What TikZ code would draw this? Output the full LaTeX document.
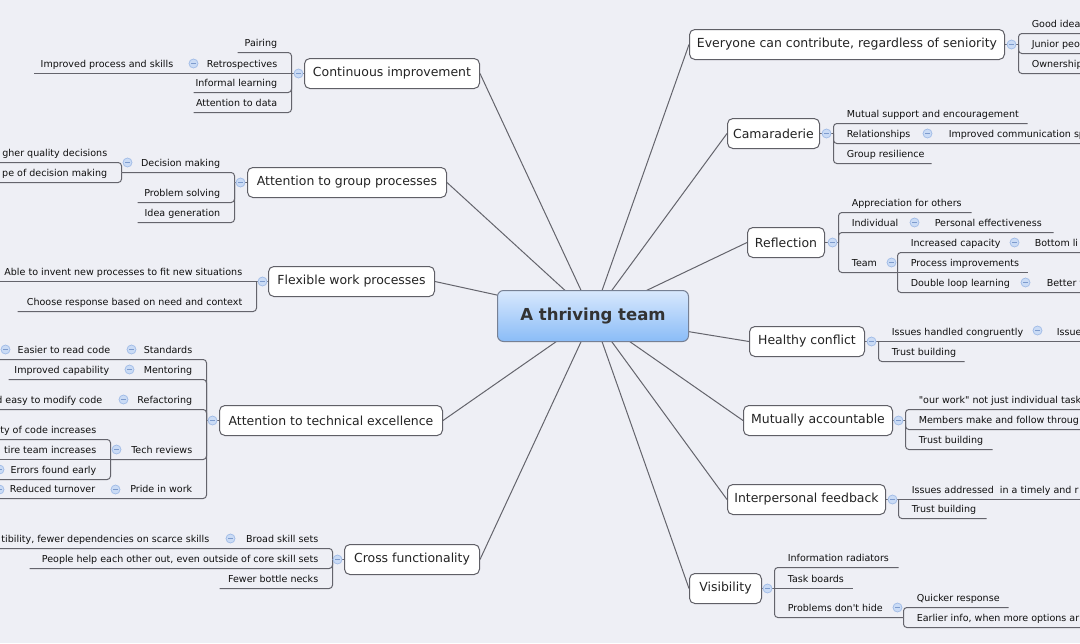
\documentclass[tikz,border=0pt]{standalone}
\usepackage{fontspec}
\setmainfont{DejaVu Sans}[Ligatures=TeXOff]
\pgfdeclarelayer{bg}
\pgfsetlayers{bg,main}
\definecolor{bgc}{RGB}{238,239,245}
\definecolor{linec}{RGB}{100,100,108}
\definecolor{boxline}{RGB}{95,95,102}
\definecolor{txt}{RGB}{15,15,15}
\definecolor{mtxt}{RGB}{35,35,35}
\definecolor{togfill}{RGB}{202,219,245}
\definecolor{togdraw}{RGB}{158,186,230}
\definecolor{togminus}{RGB}{125,155,205}
\definecolor{ctop}{RGB}{216,232,253}
\definecolor{cbot}{RGB}{138,188,247}
\definecolor{cline}{RGB}{118,128,148}
\tikzset{
  conn/.style={draw=linec, line width=0.75pt, rounded corners=2.5pt},
  mainconn/.style={draw=linec, line width=0.75pt},
  leaf/.style={font=\fontsize{7.16}{8}\selectfont, text=txt, inner sep=0pt},
  mainbox/.style={draw=boxline, fill=white, rounded corners=4pt, line width=0.75pt,
    font=\fontsize{9.35}{11}\selectfont, text=mtxt, inner sep=0pt},
  central/.style={draw=cline, top color=ctop, bottom color=cbot, rounded corners=4.5pt,
    line width=0.75pt, font=\bfseries\fontsize{12.4}{14}\selectfont, text=black!80,
    inner sep=0pt, minimum width=143.25pt, minimum height=38.25pt},
  togg/.style={circle, fill=togfill, draw=togdraw, line width=0.5pt, minimum size=6.8pt,
    inner sep=0pt, path picture={\draw[togminus, line width=0.6pt]
      ([xshift=-1.6pt]path picture bounding box.center) --
      ([xshift=1.6pt]path picture bounding box.center);}},
}
\newcommand{\Mainb}[6]{\node[mainbox, minimum width={(#3-#2)*0.75pt},
  minimum height={(#5-#4)*0.75pt}] (#1) at ({(#2+#3)/2},{(#4+#5)/2}) {#6};}
\newcommand{\Tog}[3]{\node[togg] (#1) at (#2,#3) {};}
\newcommand{\Cpath}[4]{\ifnum#2=#3\relax\draw[conn] (#1,#3) -- (#4,#3);\else
  \draw[conn] (#1,#2) -- (#1,#3) -- (#4,#3);\fi}
\newcommand{\Rch}[6]{\Cpath{#2}{#3}{#4}{#5}\node[leaf,anchor=base west] (#1) at ({#2+13},{#4-6}) {#6};}
\newcommand{\Lch}[6]{\Cpath{#2}{#3}{#4}{#5}\node[leaf,anchor=base east] (#1) at ({#2-14},{#4-6}) {#6};}
\newcommand{\Rtx}[4]{\node[leaf,anchor=base west] (#1) at (#2,{#3-6}) {#4};}
\newcommand{\Ltx}[4]{\node[leaf,anchor=base east] (#1) at (#2,{#3-6}) {#4};}
\begin{document}
\begin{tikzpicture}[x=0.75pt,y=-0.75pt]
\useasboundingbox (0,0) rectangle (1080,643);
\begin{pgfonlayer}{bg}\fill[bgc] (0,0) rectangle (1080,643);\end{pgfonlayer}
\begin{scope}
\clip (0,0) rectangle (1080,643);
\begin{scope}[shift={(0.5,0.5)}]
% central and main branches
\node[central] (ctr) at (592.5,315.5) {A thriving team};
\Mainb{ci}{304}{479}{58}{88}{Continuous improvement}
\Mainb{agp}{247}{446}{167}{197}{Attention to group processes}
\Mainb{fwp}{268}{434}{266}{296}{Flexible work processes}
\Mainb{ate}{219}{442}{405}{435}{Attention to technical excellence}
\Mainb{cf}{344}{479}{544}{574}{Cross functionality}
\Mainb{ec}{689}{1004}{29}{59}{Everyone can contribute, regardless of seniority}
\Mainb{cam}{727}{819}{118}{148}{Camaraderie}
\Mainb{ref}{747}{824}{227}{257}{Reflection}
\Mainb{hc}{749}{864}{326}{356}{Healthy conflict}
\Mainb{ma}{743}{892}{405}{435}{Mutually accountable}
\Mainb{ifb}{727}{885}{484}{514}{Interpersonal feedback}
\Mainb{vis}{689}{761}{573}{603}{Visibility}
\begin{pgfonlayer}{bg}
\foreach \n in {ci,agp,fwp,ate,cf} {\draw[mainconn] (ctr.center) -- (\n.east);}
\foreach \n in {ec,cam,ref,hc,ma,ifb,vis} {\draw[mainconn] (ctr.center) -- (\n.west);}
\end{pgfonlayer}
% box to bracket
\draw[conn] (ci.west) -- (291,73);
\draw[conn] (agp.west) -- (234,182);
\draw[conn] (fwp.west) -- (256,281);
\draw[conn] (ate.west) -- (206,420);
\draw[conn] (cf.west) -- (332,559);
\draw[conn] (ec.east) -- (1018,44);
\draw[conn] (cam.east) -- (833,133);
\draw[conn] (ref.east) -- (838,242);
\draw[conn] (hc.east) -- (878,341);
\draw[conn] (ma.east) -- (905,420);
\draw[conn] (ifb.east) -- (898,499);
\draw[conn] (vis.east) -- (774,588);
% Continuous improvement
\Lch{ci1}{291}{73}{52}{237}{Pairing}
\Lch{ci2}{291}{73}{73}{33}{Retrospectives}
\Lch{ci3}{291}{73}{92}{193}{Informal learning}
\Lch{ci4}{291}{73}{112}{193}{Attention to data}
\Ltx{ci2a}{173}{73}{Improved process and skills}
% Attention to group processes
\Lch{agp1}{234}{182}{172}{121}{Decision making}
\Lch{agp2}{234}{182}{202}{137}{Problem solving}
\Lch{agp3}{234}{182}{222}{137}{Idea generation}
\Lch{agp1a}{121}{172}{162}{-5}{gher quality decisions}
\Lch{agp1b}{121}{172}{182}{-5}{pe of decision making}
% Flexible work processes
\Lch{fwp1}{256}{281}{281}{-5}{Able to invent new processes to fit new situations}
\Lch{fwp2}{256}{281}{311}{17}{Choose response based on need and context}
% Attention to technical excellence
\Lch{ate1}{206}{420}{359}{-5}{Standards}
\Lch{ate2}{206}{420}{379}{8}{Mentoring}
\Lch{ate3}{206}{420}{409}{-5}{Refactoring}
\Lch{ate4}{206}{420}{459}{110}{Tech reviews}
\Lch{ate5}{206}{420}{498}{-5}{Pride in work}
\Ltx{ate1a}{110}{359}{Easier to read code}
\Ltx{ate2a}{109}{379}{Improved capability}
\Ltx{ate3a}{102}{409}{d easy to modify code}
\Lch{ate4a}{110}{459}{439}{-5}{ty of code increases}
\Lch{ate4b}{110}{459}{459}{-5}{tire team increases}
\Lch{ate4c}{110}{459}{479}{-5}{Errors found early}
\Ltx{ate5a}{95}{498}{Reduced turnover}
% Cross functionality
\Lch{cf1}{332}{559}{548}{-5}{Broad skill sets}
\Lch{cf2}{332}{559}{568}{29}{People help each other out, even outside of core skill sets}
\Lch{cf3}{332}{559}{588}{219}{Fewer bottle necks}
\Ltx{cf1a}{209}{548}{tibility, fewer dependencies on scarce skills}
% Everyone can contribute
\Rch{ec1}{1018}{44}{33}{1085}{Good idea}
\Rch{ec2}{1018}{44}{53}{1085}{Junior peo}
\Rch{ec3}{1018}{44}{73}{1085}{Ownership}
% Camaraderie
\Rch{cam1}{833}{133}{123}{1027}{Mutual support and encouragement}
\Rch{cam2}{833}{133}{143}{1085}{Relationships}
\Rch{cam3}{833}{133}{163}{931}{Group resilience}
\Rtx{cam2a}{948}{143}{Improved communication sp}
% Reflection
\Rch{ref1}{838}{242}{212}{971}{Appreciation for others}
\Rch{ref2}{838}{242}{232}{1053}{Individual}
\Rch{ref3}{838}{242}{272}{897}{Team}
\Rtx{ref2a}{934}{232}{Personal effectiveness}
\Rch{ref3a}{897}{272}{252}{1085}{Increased capacity}
\Rch{ref3b}{897}{272}{272}{1027}{Process improvements}
\Rch{ref3c}{897}{272}{292}{1085}{Double loop learning}
\Rtx{ref3aa}{1034}{252}{Bottom li}
\Rtx{ref3ca}{1046}{292}{Better t}
% Healthy conflict
\Rch{hc1}{878}{341}{341}{1085}{Issues handled congruently}
\Rch{hc2}{878}{341}{361}{964}{Trust building}
\Rtx{hc1a}{1056}{341}{Issue}
% Mutually accountable
\Rch{ma1}{905}{420}{409}{1085}{"our work" not just individual task}
\Rch{ma2}{905}{420}{429}{1085}{Members make and follow throug}
\Rch{ma3}{905}{420}{449}{992}{Trust building}
% Interpersonal feedback
\Rch{if1}{898}{499}{499}{1085}{Issues addressed\ \ in a timely and r}
\Rch{if2}{898}{499}{518}{986}{Trust building}
% Visibility
\Rch{vis1}{774}{588}{567}{898}{Information radiators}
\Rch{vis2}{774}{588}{588}{852}{Task boards}
\Rch{vis3}{774}{588}{617}{903}{Problems don't hide}
\Rch{vis3a}{903}{617}{607}{1008}{Quicker response}
\Rch{vis3b}{903}{617}{627}{1085}{Earlier info, when more options ar}
% toggles (main)
\Tog{t1}{298}{73}\Tog{t2}{240}{182}\Tog{t3}{262}{281}\Tog{t4}{212}{420}
\Tog{t5}{337}{559}\Tog{t6}{1011}{44}\Tog{t7}{826}{133}\Tog{t8}{832}{242}
\Tog{t9}{871}{341}\Tog{t10}{898}{420}\Tog{t11}{892}{499}\Tog{t12}{767}{588}
% toggles (sub)
\Tog{s1}{193}{63}\Tog{s2}{127}{162}\Tog{s3}{131}{349}\Tog{s4}{5}{349}
\Tog{s5}{129}{369}\Tog{s6}{123}{399}\Tog{s7}{116}{449}\Tog{s8}{-1}{469}
\Tog{s9}{115}{489}\Tog{s10}{-1}{489}\Tog{s11}{230}{538}\Tog{s12}{927}{133}
\Tog{s13}{914}{222}\Tog{s14}{891}{262}\Tog{s15}{1014}{242}\Tog{s16}{1025}{282}
\Tog{s17}{1037}{330}\Tog{s18}{897}{607}
\end{scope}
\end{scope}
\end{tikzpicture}
\end{document}
